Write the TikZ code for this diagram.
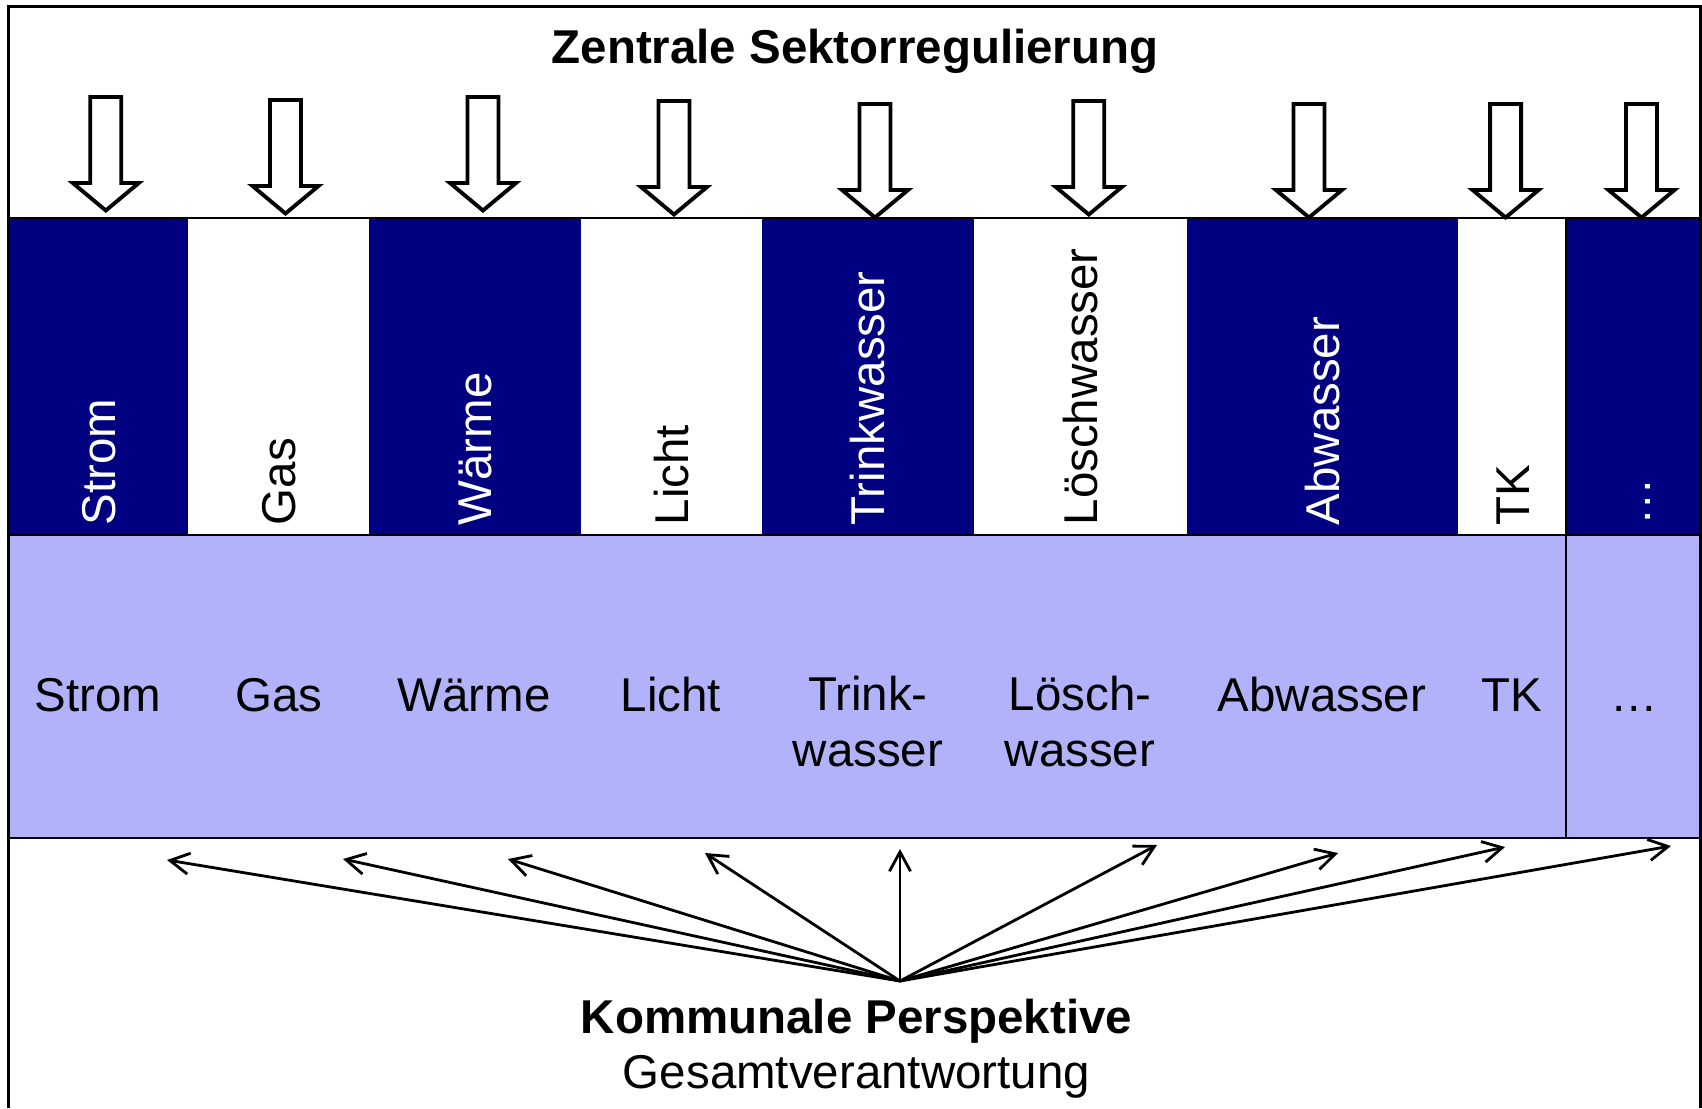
\documentclass[tikz,border=0pt]{standalone}
\usepackage{fontspec}
\setmainfont{Liberation Sans}
\usepackage{tikz}
\usetikzlibrary{arrows.meta}
\definecolor{sektor}{HTML}{000080}
\definecolor{kommune}{HTML}{B2B2FA}
\newcommand{\fsz}{\fontsize{13.5}{15.7}\selectfont}

\begin{document}
\begin{tikzpicture}[x=0.01cm, y=-0.01cm, >={Straight Barb[length=5.5pt,width=6pt]},
  lbl/.style={font=\fsz, inner sep=0pt},
  vlbl/.style={lbl, rotate=90, anchor=base west},
  hohl/.style={draw, line width=1.1pt, fill=white}]
\useasboundingbox (0,0) rectangle (1702,1108);
\fill[kommune] (8.5,535) rectangle (1700.5,838);
\foreach \xa/\xb/\col/\txt/\nm/\lab in {8.5/187.8/sektor/white/strom/Strom, 187.8/369/white/black/gas/Gas, 369/580.7/sektor/white/waerme/Wärme, 580.7/762/white/black/licht/Licht, 762/973.7/sektor/white/trink/Trinkwasser, 973.7/1186.5/white/black/loesch/Löschwasser, 1186.5/1458/sektor/white/abw/Abwasser, 1458/1566.4/white/black/tk/TK, 1566.4/1700.5/sektor/white/etc/…}{
  \fill[\col] (\xa,218) rectangle (\xb,535);
  \node[vlbl, text=\txt] (v\nm) at ({(\xa+\xb)/2+17},526) {\lab};
}
\foreach \ax/\dy in {105.8/0, 285.5/3, 483/0, 674/4, 875/7, 1088.8/4, 1309/7, 1505.6/7, 1641.5/7}
  \draw[hohl] ({\ax-15.5},{97+\dy}) -- ({\ax+15.5},{97+\dy}) -- ({\ax+15.5},{183+\dy}) -- ({\ax+33},{183+\dy})
    -- (\ax,{210.5+\dy}) -- ({\ax-33},{183+\dy}) -- ({\ax-15.5},{183+\dy}) -- cycle;
\draw[line width=0.7pt] (8.5,1108) -- (8.5,6.5) -- (1700.5,6.5) -- (1700.5,1108);
\draw[line width=0.75pt] (8.5,218) -- (1700.5,218) (8.5,535) -- (1700.5,535) (8.5,838) -- (1700.5,838);
\draw[line width=0.6pt] (1566.4,218) -- (1566.4,838);
\node[lbl, font=\fsz\bfseries, anchor=base] (zsr) at (855,63) {Zentrale Sektorregulierung};
\foreach \hx/\hy/\nm/\lab in {97.7/711/strom/Strom, 279/711/gas/Gas, 474/711/waerme/Wärme, 671/711/licht/Licht, 868/766/trink/Trink-\\wasser, 1080/766/loesch/Lösch-\\wasser, 1322/711/abw/Abwasser, 1512/711/tk/TK, 1634/711/etc/…}
  \node[lbl, anchor=base, align=center] (h\nm) at (\hx,\hy) {\lab};
\coordinate (kp) at (900,981);
\foreach \i/\tx/\ty in {1/167/860, 2/343/859, 3/508/859, 4/705/853, 5/900/849, 6/1157/845, 7/1338/853, 8/1505/847, 9/1671/846}{
  \coordinate (t\i) at (\tx,\ty);
  \draw[->, line width=0.8pt] (kp) -- (t\i);
}
\node[lbl, font=\fsz\bfseries, anchor=base] (kom) at (856.5,1033) {Kommunale Perspektive};
\node[lbl, anchor=base] (ges) at (856.5,1088) {Gesamtverantwortung};
\end{tikzpicture}
\end{document}
